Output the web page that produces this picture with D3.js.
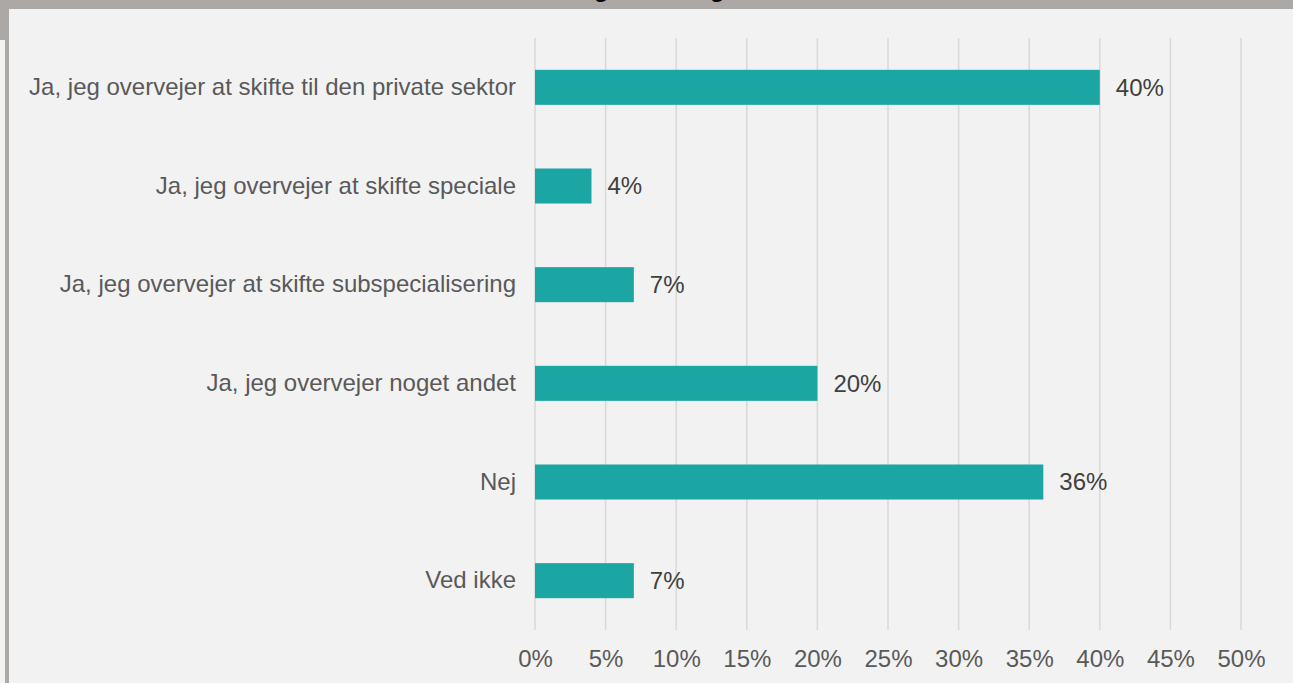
<!DOCTYPE html>
<html>
<head>
<meta charset="utf-8">
<script src="https://cdn.jsdelivr.net/npm/d3@7"></script>
<style>
  html, body { margin: 0; padding: 0; background: #f2f2f2; }
  svg { display: block; font-family: "Liberation Sans", Arial, sans-serif; }
</style>
</head>
<body>
<div id="chart"></div>
<script>
// Data
var categories = [
  "Ja, jeg overvejer at skifte til den private sektor",
  "Ja, jeg overvejer at skifte speciale",
  "Ja, jeg overvejer at skifte subspecialisering",
  "Ja, jeg overvejer noget andet",
  "Nej",
  "Ved ikke"
];
var values = [40, 4, 7, 20, 36, 7];
var tickValues = [0, 5, 10, 15, 20, 25, 30, 35, 40, 45, 50];
var title = "Har du tanker om at foretage ændringer i din ansættelse eller sektor?";

// Setup
var width = 1293,
    height = 683,
    fontSize = 24,
    margin = { top: 38, left: 535, right: 52, bottom: 53 };

var svg = d3.select("#chart").append("svg")
    .attr("width", width)
    .attr("height", height);

svg.append("rect")
    .attr("width", width)
    .attr("height", height)
    .attr("fill", "#f2f2f2");

// frame bits: top band and left edge
svg.append("rect")
    .attr("x", 0).attr("y", 0)
    .attr("width", width).attr("height", 9)
    .attr("fill", "#aba8a6");
svg.append("rect")
    .attr("x", 5).attr("y", 0)
    .attr("width", 4).attr("height", height)
    .attr("fill", "#aba8a6");
svg.append("rect")
    .attr("x", 0).attr("y", 0)
    .attr("width", 9).attr("height", 40)
    .attr("fill", "#aba8a6");

// title, mostly cut off above the frame (as in the original)
svg.append("text")
    .attr("x", 690)
    .attr("y", -3)
    .attr("text-anchor", "middle")
    .attr("font-size", 24)
    .attr("font-weight", "bold")
    .attr("fill", "#000")
    .text(title);

var x = d3.scaleLinear()
    .domain([0, 50])
    .range([margin.left, width - margin.right]);

var y = d3.scaleBand()
    .domain(categories)
    .range([margin.top, height - margin.bottom])
    .paddingInner(0.645)
    .paddingOuter(0.3225);

// gridlines
svg.append("g")
    .selectAll("line")
    .data(tickValues)
  .enter().append("line")
    .attr("x1", function(d) { return x(d); })
    .attr("x2", function(d) { return x(d); })
    .attr("y1", margin.top)
    .attr("y2", height - margin.bottom)
    .attr("stroke", "#d9d9d9")
    .attr("stroke-width", 1.5);

// x axis labels
var xAxis = d3.axisBottom(x)
    .tickValues(tickValues)
    .tickSize(0)
    .tickPadding(0)
    .tickFormat(function(d) { return d + "%"; });

var gx = svg.append("g")
    .attr("transform", "translate(0," + (height - 16) + ")")
    .call(xAxis);
gx.select(".domain").remove();
gx.selectAll("text")
    .attr("dy", 0)
    .attr("font-size", fontSize)
    .attr("font-family", "Liberation Sans, Arial, sans-serif")
    .attr("fill", "#595959");

// category labels
var yAxis = d3.axisLeft(y).tickSize(0).tickPadding(19);
var gy = svg.append("g")
    .attr("transform", "translate(" + margin.left + ",0)")
    .call(yAxis);
gy.select(".domain").remove();
gy.selectAll("text")
    .attr("font-size", fontSize)
    .attr("font-family", "Liberation Sans, Arial, sans-serif")
    .attr("fill", "#595959");

// bars
svg.append("g")
    .selectAll("rect")
    .data(values)
  .enter().append("rect")
    .attr("x", x(0))
    .attr("y", function(d, i) { return y(categories[i]); })
    .attr("width", function(d) { return x(d) - x(0); })
    .attr("height", y.bandwidth())
    .attr("fill", "#1ba6a4");

// value labels
svg.append("g")
    .selectAll("text")
    .data(values)
  .enter().append("text")
    .attr("x", function(d) { return x(d) + 16; })
    .attr("y", function(d, i) { return y(categories[i]) + y.bandwidth() / 2; })
    .attr("dy", "0.35em")
    .attr("font-size", fontSize)
    .attr("fill", "#404040")
    .text(function(d) { return d + "%"; });
</script>
</body>
</html>
